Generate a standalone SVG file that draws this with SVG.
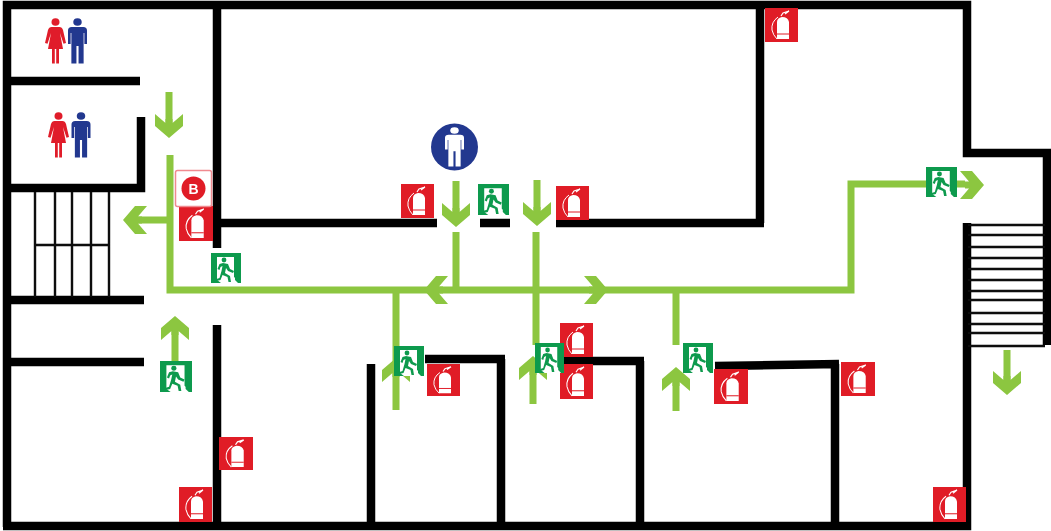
<svg xmlns="http://www.w3.org/2000/svg" width="1051" height="531" viewBox="0 0 1051 531">
<style>
.wall{fill:none;stroke:#000;stroke-width:8.500;stroke-linecap:butt;stroke-linejoin:miter}
.tread{fill:none;stroke:#111;stroke-width:2.400}
.route{fill:none;stroke:#8cc63f;stroke-width:7;stroke-linejoin:miter}
.head{fill:#8cc63f}
.w{fill:#e01f2a}.m{fill:#24388f}
</style>
<defs>
<filter id="soft" filterUnits="userSpaceOnUse" x="0" y="0" width="1051" height="531"><feGaussianBlur stdDeviation="0.550"/></filter>
<symbol id="ext" viewBox="0 0 33 34" overflow="visible" preserveAspectRatio="none">
<rect width="33" height="34" fill="#e01b26"/>
<path d="M12 31V14q0-4 5-5q6 0 7 5V31Z" fill="#fff"/>
<path d="M13 9Q6 14 7 22q1 5 5 9" fill="none" stroke="#fff" stroke-width="1"/>
<path d="M16 8l2-3l6-2M20 6l4-3" fill="none" stroke="#fff" stroke-width="1.200"/>
<path d="M12 26H24" stroke="#e01b26" stroke-width="1"/>
</symbol>
<symbol id="exit" viewBox="0 0 30 30" overflow="visible" preserveAspectRatio="none">
<rect width="30" height="30" fill="#0f9a4e"/>
<path d="M6 4H23V24L30 30H10L6 27Z" fill="#fff"/>
<path d="M24 4h6v26h-3l-3-3Z" fill="#0f9a4e"/>
<circle cx="13" cy="7" r="2.400" fill="#0f9a4e"/>
<path d="M12 10l5 1l2 5l4 2l-1 2l-5-2l-2-3l-1 5l5 3l1 6h-2.500l-1-5l-5-2l-2 5l-4 1v-2l3-1l2-7l1-5l-2 1l-1 3l-2-1l2-5Z" fill="#0f9a4e"/>
</symbol>
<symbol id="man" viewBox="0 0 18 46" overflow="visible" preserveAspectRatio="none">
<ellipse cx="9" cy="4" rx="4" ry="3.800"/>
<path d="M3.500 9H14.500q3.500 0 3.500 3.500V26H15.500V15H14.800V45.500H10V28H8V45.500H3.200V15H2.500V26H0V12.500q0-3.500 3.500-3.500Z"/>
</symbol>
<symbol id="woman" viewBox="0 0 21 46" overflow="visible" preserveAspectRatio="none">
<ellipse cx="10.500" cy="4" rx="4" ry="3.800"/>
<path d="M6.500 9H14.500q2.500 0 3.500 3l3 13l-2.500 .800L15 15L18 31H14V45.500H11.200V31H9.800V45.500H7V31H3L6 15L2.500 25.800L0 25L3 12q1-3 3.500-3Z"/>
</symbol>
<path id="ad" d="M-14-13L-3.500-4V-8H3.500V-4L14-13V-1L0 11L-14-1Z"/>
</defs>
<rect width="1051" height="531" fill="#fff"/>
<g filter="url(#soft)">
<g id="walls">
<path class="wall" d="M7 527V5H967V153H1047V345M967 223V526H3"/>
<path class="wall" d="M7 81H140M141 117V188H7M217 5V248M217 223H437M480 223H510M556 223H764M760 5V223M7 300H144M7 362H144M217 325V527M371 364V527M425 359H505M501 359V527M560 361H644M640 361V527M715 366L839 364M835 364V527"/>
</g>

<g id="stairs-left">
<path class="tread" d="M35 192V297M55 192V297M72 192V297M91 192V297M109 192V297M35 245H109"/>
</g>
<g id="stairs-right">
<path class="tread" d="M968 225H1045M968 235H1045M968 247H1045M968 258H1045M968 269H1045M968 280H1045M968 291H1045M968 300H1045M968 313H1045M968 324H1045M968 333H1045M968 346H1045"/>
</g>

<g id="connectors">
<path class="route" d="M170 155V290H851V184H965"/>
<path class="route" d="M456 232V290M536 232V345M533 368V404M396 290V410M676 290V345M676 375V411M128 220H170M175 330V362M169 92V125M456 181V214M537 180V213M1007 350V382"/>
<use href="#ad" class="head" transform="translate(169 127)"/>
<use href="#ad" class="head" transform="translate(456 216)"/>
<use href="#ad" class="head" transform="translate(537 215)"/>
<use href="#ad" class="head" transform="translate(1007 384)"/>
<use href="#ad" class="head" transform="translate(175 327) rotate(180)"/>
<use href="#ad" class="head" transform="translate(396 369) rotate(180)"/>
<use href="#ad" class="head" transform="translate(533 367) rotate(180)"/>
<use href="#ad" class="head" transform="translate(676 378) rotate(180)"/>
<use href="#ad" class="head" transform="translate(134 220) rotate(90)"/>
<use href="#ad" class="head" transform="translate(435 290) rotate(90)"/>
<use href="#ad" class="head" transform="translate(597 290) rotate(-90)"/>
<use href="#ad" class="head" transform="translate(973 185) rotate(-90)"/>
</g>

<g id="extinguishers">
<use id="ext1" href="#ext" x="401" y="184" width="33" height="34"/>
<use id="ext2" href="#ext" x="556" y="186" width="33" height="34"/>
<use id="ext3" href="#ext" x="765" y="8" width="33" height="34"/>
<use id="ext4" href="#ext" x="179" y="206" width="34" height="35"/>
<use id="ext5" href="#ext" x="427" y="364" width="33" height="32"/>
<use id="ext6" href="#ext" x="560" y="323" width="33" height="34"/>
<use id="ext7" href="#ext" x="560" y="364" width="33" height="35"/>
<use id="ext8" href="#ext" x="714" y="369" width="34" height="35"/>
<use id="ext9" href="#ext" x="841" y="362" width="34" height="34"/>
<use id="ext10" href="#ext" x="219" y="437" width="34" height="33"/>
<use id="ext11" href="#ext" x="179" y="487" width="33" height="35"/>
<use id="ext12" href="#ext" x="933" y="487" width="33" height="35"/>
</g>

<g id="exits">
<use id="exit1" href="#exit" x="160" y="361" width="32" height="31"/>
<use id="exit2" href="#exit" x="211" y="253" width="30" height="30"/>
<use id="exit3" href="#exit" x="478" y="184" width="31" height="31"/>
<use id="exit4" href="#exit" x="394" y="346" width="30" height="30"/>
<use id="exit5" href="#exit" x="535" y="343" width="29" height="30"/>
<use id="exit6" href="#exit" x="683" y="343" width="30" height="30"/>
<use id="exit7" href="#exit" x="926" y="167" width="31" height="30"/>
</g>

<g id="toilet-1">
<use href="#woman" class="w" x="45" y="18" width="21" height="46"/>
<use href="#man" class="m" x="68" y="18" width="19" height="46"/>
</g>
<g id="toilet-2">
<use href="#woman" class="w" x="48" y="112" width="21" height="46"/>
<use href="#man" class="m" x="71.500" y="112" width="19" height="46"/>
</g>

<g id="assembly">
<circle cx="454.500" cy="147" r="23.500" fill="#24388f"/>
<use href="#man" fill="#fff" x="445" y="127" width="19" height="40"/>
</g>

<g id="label-b">
<rect x="175.500" y="170.500" width="36" height="36" rx="2" fill="#fff" stroke="#f08a90" stroke-width="1.500"/>
<circle cx="193.500" cy="188.500" r="12" fill="#e01b26"/>
<text x="193.500" y="193.500" text-anchor="middle" font-family="'Liberation Sans',Arial,sans-serif" font-weight="700" font-size="14" fill="#fff">B</text>
</g>
</g>
</svg>
